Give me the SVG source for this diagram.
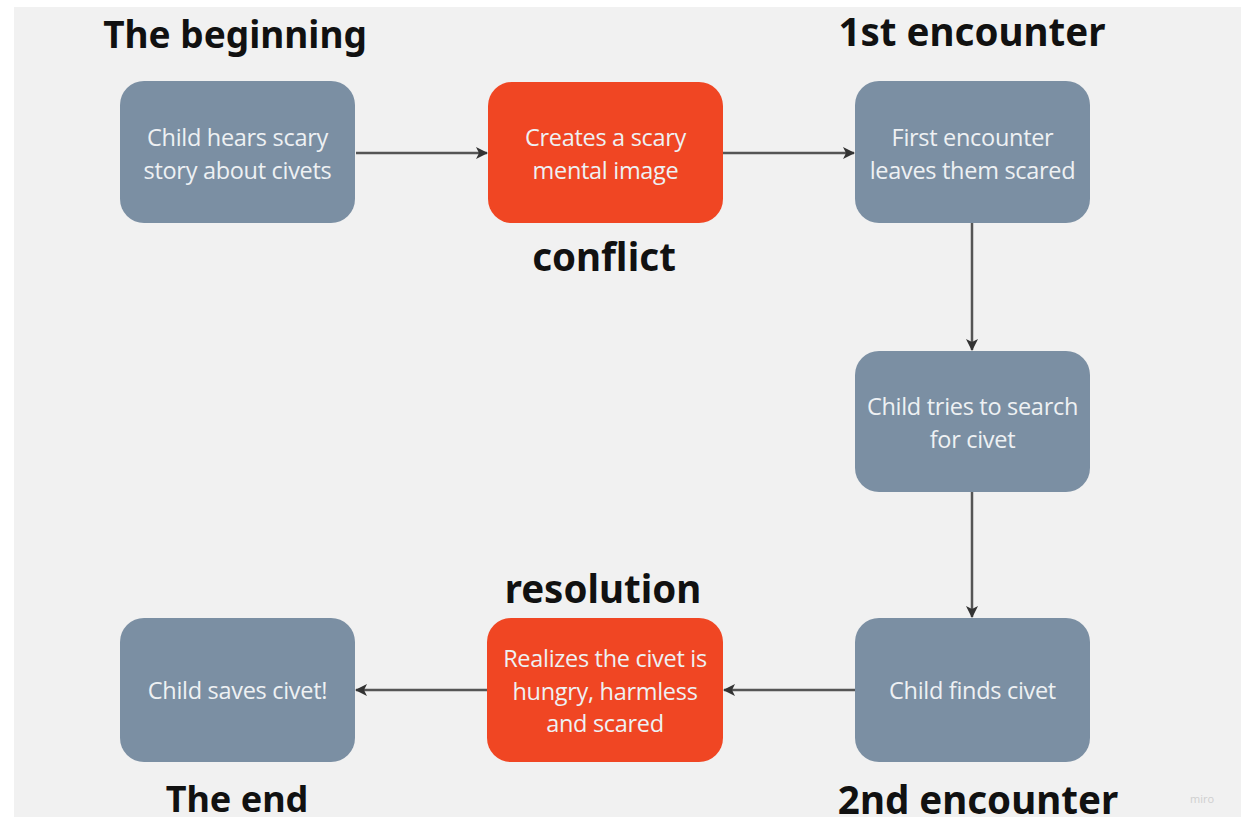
<svg xmlns="http://www.w3.org/2000/svg" width="1241" height="826" viewBox="0 0 1241 826">
<defs>
<style>
.node rect{rx:24px;ry:24px}
.gray rect{fill:#7b8fa3}
.red rect{fill:#f04623}
.nt{font-family:"Open Sans","Noto Sans","Liberation Sans",sans-serif;font-size:23.5px;fill:#eef1f3;text-anchor:middle;letter-spacing:-0.3px}
.lbl{font-family:"Noto Sans","Open Sans","Liberation Sans",sans-serif;font-size:38.5px;font-weight:bold;fill:#111;text-anchor:middle}
.conn line{stroke:#555;stroke-width:2.5;marker-end:url(#ah)}
</style>
<marker id="ah" viewBox="0 0 12 12" refX="11" refY="6" markerWidth="12" markerHeight="12" markerUnits="userSpaceOnUse" orient="auto">
<path d="M0,0 L12,6 L0,12 L3,6 Z" fill="#333"/>
</marker>
</defs>
<rect x="0" y="0" width="1241" height="826" fill="#ffffff"/>
<rect x="14" y="7" width="1227" height="810" fill="#f1f1f1"/>

<g id="connectors" class="conn">
<line x1="356" y1="153" x2="487" y2="153"/>
<line x1="723" y1="153" x2="854" y2="153"/>
<line x1="972" y1="223" x2="972" y2="350"/>
<line x1="972" y1="492" x2="972" y2="617"/>
<line x1="855" y1="690" x2="724" y2="690"/>
<line x1="487" y1="690" x2="356" y2="690"/>
</g>

<g id="n1" class="node gray">
<rect x="120" y="81" width="235" height="142"/>
<text class="nt" x="237.5" y="146">Child hears scary</text>
<text class="nt" x="237.5" y="179">story about civets</text>
</g>
<g id="n2" class="node red">
<rect x="488" y="82" width="235" height="141"/>
<text class="nt" x="605.5" y="146">Creates a scary</text>
<text class="nt" x="605.5" y="179">mental image</text>
</g>
<g id="n3" class="node gray">
<rect x="855" y="81" width="235" height="142"/>
<text class="nt" x="972.5" y="146">First encounter</text>
<text class="nt" x="972.5" y="179">leaves them scared</text>
</g>
<g id="n4" class="node gray">
<rect x="855" y="351" width="235" height="141"/>
<text class="nt" x="972.5" y="415">Child tries to search</text>
<text class="nt" x="972.5" y="448">for civet</text>
</g>
<g id="n5" class="node gray">
<rect x="855" y="618" width="235" height="144"/>
<text class="nt" x="972.5" y="699">Child finds civet</text>
</g>
<g id="n6" class="node red">
<rect x="487" y="618" width="236" height="144"/>
<text class="nt" x="605" y="667">Realizes the civet is</text>
<text class="nt" x="605" y="700">hungry, harmless</text>
<text class="nt" x="605" y="732">and scared</text>
</g>
<g id="n7" class="node gray">
<rect x="120" y="618" width="235" height="144"/>
<text class="nt" x="237.5" y="699">Child saves civet!</text>
</g>

<g id="labels">
<text class="lbl" x="235" y="48" style="font-size:37px">The beginning</text>
<text class="lbl" x="972" y="46">1st encounter</text>
<text class="lbl" x="604" y="271">conflict</text>
<text class="lbl" x="603" y="603">resolution</text>
<text class="lbl" x="237" y="812" style="font-size:36px">The end</text>
<text class="lbl" x="978" y="814">2nd encounter</text>
<text x="1202" y="803" font-family="Open Sans, sans-serif" font-size="11" fill="#cfcfcf" text-anchor="middle">miro</text>
</g>
</svg>
